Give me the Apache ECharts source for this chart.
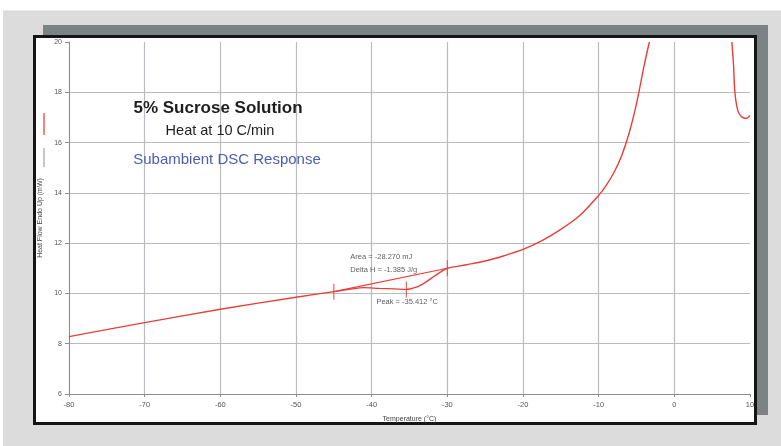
<!DOCTYPE html>
<html>
<head>
<meta charset="utf-8">
<script src="https://cdn.jsdelivr.net/npm/echarts@6/dist/echarts.min.js"></script>
<style>
  html, body { margin: 0; padding: 0; background: #ffffff; }
  .stage { position: relative; width: 781px; height: 446px; overflow: hidden; }
  .panel { position: absolute; left: 3px; top: 10px; width: 778px; height: 436px;
           background: #dcdcdc; border-top: 1px solid #e8e8e8; box-sizing: border-box; }
  .shadow { position: absolute; left: 43px; top: 25px; width: 725px; height: 390px; background: #7b8385; }
  .box { position: absolute; left: 33px; top: 35px; width: 724px; height: 390px;
         background: #ffffff; border: 3px solid #151515; box-sizing: border-box; }
  #chart { position: absolute; left: 0; top: 0; width: 781px; height: 446px; }
</style>
</head>
<body>
<div class="stage">
  <div class="panel"></div>
  <div class="shadow"></div>
  <div class="box"></div>
  <div id="chart"></div>
</div>
<script>
// Heat flow (mW) against temperature (°C) for the 5% sucrose run.
// A null splits the trace where it runs above the plotted range (ice melt).
const temperature = [
  -80, -70, -60, -50, -45, -43, -41, -39, -37, -35.412,
  -34, -33, -32, -31, -30, -27.5, -25, -22.5, -20, -17.5, -15, -12.5,
  -10, -9, -8, -7, -6, -5, -4, -3.3,
  null,
  7.6, 7.83, 8.0, 8.4, 8.85, 9.5, 10.0
];
const heatFlow = [
  8.28, 8.84, 9.37, 9.85, 10.07, 10.16, 10.23, 10.2, 10.18, 10.16,
  10.26, 10.42, 10.63, 10.83, 11.0, 11.14, 11.29, 11.5, 11.75, 12.1, 12.55, 13.1,
  13.9, 14.3, 14.8, 15.45, 16.35, 17.55, 19.05, 20.0,
  null,
  20.0, 19.05, 18.0, 17.26, 17.04, 16.96, 17.08
];

// Integration of the transition: onset, peak and end points, joined by the baseline.
const eventTemps = [-45, -35.412, -30];
const eventFlows = [10.07, 10.16, 11.0];
const areaText = 'Area = -28.270 mJ';
const deltaHText = 'Delta H = -1.385 J/g';
const peakText = 'Peak = -35.412 °C';

// Axis ticks
const xTicks = [-80, -70, -60, -50, -40, -30, -20, -10, 0, 10];
const yTicks = [6, 8, 10, 12, 14, 16, 18, 20];

const curve = temperature.map((t, i) => (t === null ? [null, null] : [t, heatFlow[i]]));
const baseline = [[eventTemps[0], eventFlows[0]], [eventTemps[2], eventFlows[2]]];
const events = eventTemps.map((t, i) => [t, eventFlows[i]]);

const RED = '#ea3d38';
const FONT = '"Liberation Sans", Arial, sans-serif';

const chart = echarts.init(document.getElementById('chart'), null, { renderer: 'canvas' });

chart.setOption({
  backgroundColor: 'transparent',
  animation: false,
  grid: { left: 69, right: 31, top: 42, bottom: 52 },
  xAxis: {
    type: 'value',
    min: xTicks[0], max: xTicks[xTicks.length - 1], interval: 10,
    name: 'Temperature (°C)',
    nameLocation: 'middle', nameGap: 22,
    nameTextStyle: { fontFamily: FONT, fontSize: 7, color: '#444' },
    axisLine: { onZero: false, lineStyle: { color: '#8a8e92', width: 1 } },
    axisTick: { show: true, length: 3, lineStyle: { color: '#8a8e92' } },
    axisLabel: { fontFamily: FONT, fontSize: 7.5, color: '#555', margin: 7 },
    splitLine: { show: true, showMaxLine: false, lineStyle: { color: '#b8bcc1', width: 1.2 } }
  },
  yAxis: {
    type: 'value',
    min: yTicks[0], max: yTicks[yTicks.length - 1], interval: 2,
    name: 'Heat Flow Endo Up (mW)',
    nameLocation: 'middle', nameGap: 25, nameRotate: 90,
    nameTextStyle: { fontFamily: FONT, fontSize: 7, color: '#444' },
    axisLine: { show: true, onZero: false, lineStyle: { color: '#8a8e92', width: 1 } },
    axisTick: { show: true, length: 4, lineStyle: { color: '#8a8e92' } },
    axisLabel: { fontFamily: FONT, fontSize: 7, color: '#555', margin: 7 },
    splitLine: { show: true, showMaxLine: false, lineStyle: { color: '#b8bcc1', width: 1.2 } }
  },
  series: [
    {
      type: 'line',
      name: 'Heat Flow',
      data: curve,
      showSymbol: false,
      connectNulls: false,
      smooth: 0.3,
      clip: true,
      lineStyle: { color: RED, width: 1.4 },
      z: 3
    },
    {
      type: 'line',
      name: 'Baseline',
      data: baseline,
      showSymbol: false,
      lineStyle: { color: RED, width: 1.2 },
      z: 3
    },
    {
      type: 'scatter',
      name: 'Events',
      data: events,
      symbol: 'rect',
      symbolSize: [1.2, 16],
      itemStyle: { color: RED },
      z: 4,
      label: {
        show: true,
        fontFamily: FONT,
        fontSize: 7.5,
        color: '#333',
        position: 'inside',
        align: 'left',
        verticalAlign: 'middle',
        lineHeight: 12.5,
        formatter: p => {
          if (p.dataIndex === 1) return peakText;
          if (p.dataIndex === 2) return areaText + '\n' + deltaHText;
          return '';
        }
      },
      labelLayout: p => {
        if (p.dataIndex === 1) return { dx: -30, dy: 13 };
        if (p.dataIndex === 2) return { dx: -97, dy: -5 };
        return {};
      }
    }
  ],
  graphic: [
    {
      type: 'text', z: 10, position: [218, 108],
      style: {
        text: '5% Sucrose Solution',
        font: 'bold 17px ' + FONT, fill: '#1e1e1e',
        textAlign: 'center', textVerticalAlign: 'middle'
      }
    },
    {
      type: 'text', z: 10, position: [220, 131],
      style: {
        text: 'Heat at 10 C/min',
        font: '14.5px ' + FONT, fill: '#1e1e1e',
        textAlign: 'center', textVerticalAlign: 'middle'
      }
    },
    {
      type: 'text', z: 10, position: [227, 160],
      style: {
        text: 'Subambient DSC Response',
        font: '15px ' + FONT, fill: '#4a5eb4',
        textAlign: 'center', textVerticalAlign: 'middle'
      }
    },
    {
      // trace key beside the y-axis title
      type: 'line', z: 10,
      shape: { x1: 44, y1: 113, x2: 44, y2: 135 },
      style: { stroke: '#f07a78', lineWidth: 1.8 }
    },
    {
      type: 'line', z: 10,
      shape: { x1: 44, y1: 148, x2: 44, y2: 167 },
      style: { stroke: '#8c8c8c', lineWidth: 1 }
    }
  ]
});
</script>
</body>
</html>
